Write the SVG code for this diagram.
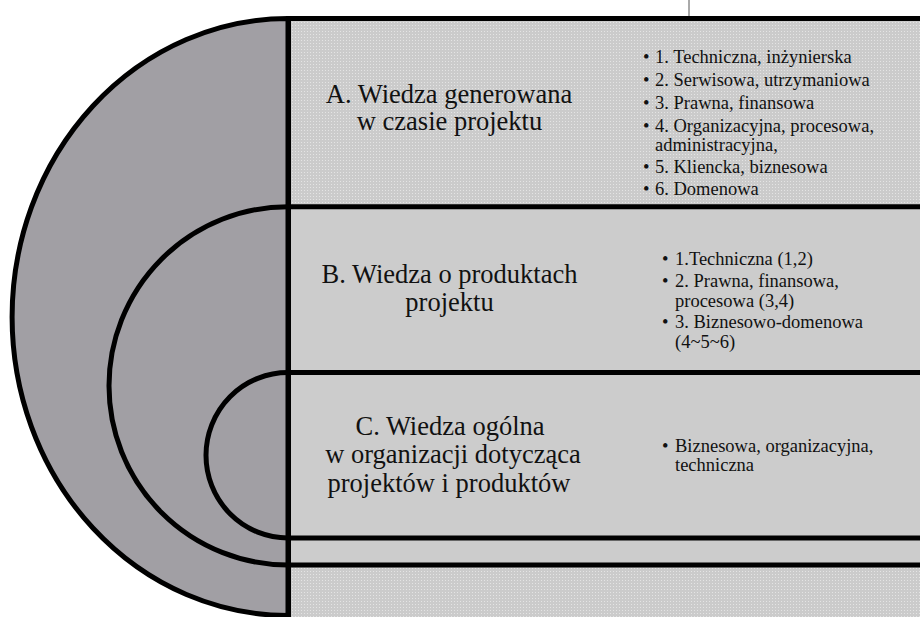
<svg xmlns="http://www.w3.org/2000/svg" width="920" height="617" viewBox="0 0 920 617">
<defs>
<pattern id="dots" width="3" height="3" patternUnits="userSpaceOnUse">
<rect width="3" height="3" fill="#cbcbcb"/>
<rect x="1" y="1" width="1" height="1" fill="#e4e4e4"/>
</pattern>
<style>
.ln{stroke:#000;stroke-width:5;fill:none}
.hd{font-size:26.5px;fill:#111;text-anchor:middle}
.li{font-size:18.5px;fill:#111}
.solid{fill:#cccccc}
</style>
</defs>
<rect width="920" height="617" fill="#fff"/>
<line x1="689" y1="0" x2="689" y2="16" stroke="#555" stroke-width="1"/>

<g id="panel-fills">
<rect x="288" y="18.5" width="632" height="188.2" fill="url(#dots)"/>
<rect x="288" y="206.7" width="632" height="165.8" class="solid"/>
<rect x="288" y="372.5" width="632" height="165.5" class="solid"/>
<rect x="288" y="538" width="632" height="27" class="solid"/>
<rect x="288" y="565" width="632" height="52" fill="url(#dots)"/>
</g>

<g id="arcs">
<path d="M288,18.5 A276,298.5 0 0 0 288,615.5 Z" fill="#a19fa4" stroke="#000" stroke-width="5"/>
<path class="ln" d="M288,206.7 A179,179.15 0 0 0 288,565"/>
<path class="ln" d="M288,372.5 A82,82.75 0 0 0 288,538"/>
</g>

<g id="frame">
<line class="ln" x1="286" y1="18.5" x2="920" y2="18.5"/>
<line class="ln" x1="286" y1="206.7" x2="920" y2="206.7"/>
<line class="ln" x1="286" y1="372.5" x2="920" y2="372.5"/>
<line class="ln" x1="286" y1="538" x2="920" y2="538"/>
<line class="ln" x1="286" y1="565" x2="920" y2="565"/>
<line class="ln" x1="288.5" y1="16" x2="288.5" y2="617"/>
</g>

<g id="node-A" font-family="Liberation Serif, serif">
<text class="hd" x="449" y="103">A. Wiedza generowana</text>
<text class="hd" x="449.5" y="130">w czasie projektu</text>
<text class="li" x="643" y="63">•<tspan x="655">1. Techniczna, inżynierska</tspan></text>
<text class="li" x="643" y="86">•<tspan x="655">2. Serwisowa, utrzymaniowa</tspan></text>
<text class="li" x="643" y="109">•<tspan x="655">3. Prawna, finansowa</tspan></text>
<text class="li" x="643" y="131.5">•<tspan x="655">4. Organizacyjna, procesowa,</tspan></text>
<text class="li" x="655" y="150.5">administracyjna,</text>
<text class="li" x="643" y="173">•<tspan x="655">5. Kliencka, biznesowa</tspan></text>
<text class="li" x="643" y="195">•<tspan x="655">6. Domenowa</tspan></text>
</g>

<g id="node-B" font-family="Liberation Serif, serif">
<text class="hd" x="449.5" y="283">B. Wiedza o produktach</text>
<text class="hd" x="449.5" y="311">projektu</text>
<text class="li" x="662" y="265">•<tspan x="675">1.Techniczna (1,2)</tspan></text>
<text class="li" x="662" y="286.5">•<tspan x="675">2. Prawna, finansowa,</tspan></text>
<text class="li" x="675" y="307">procesowa (3,4)</text>
<text class="li" x="662" y="328">•<tspan x="675">3. Biznesowo-domenowa</tspan></text>
<text class="li" x="675" y="348">(4~5~6)</text>
</g>

<g id="node-C" font-family="Liberation Serif, serif">
<text class="hd" x="450" y="435">C. Wiedza ogólna</text>
<text class="hd" x="453" y="463">w organizacji dotycząca</text>
<text class="hd" x="449" y="491.5">projektów i produktów</text>
<text class="li" x="662" y="452">•<tspan x="675">Biznesowa, organizacyjna,</tspan></text>
<text class="li" x="675" y="471">techniczna</text>
</g>
</svg>
